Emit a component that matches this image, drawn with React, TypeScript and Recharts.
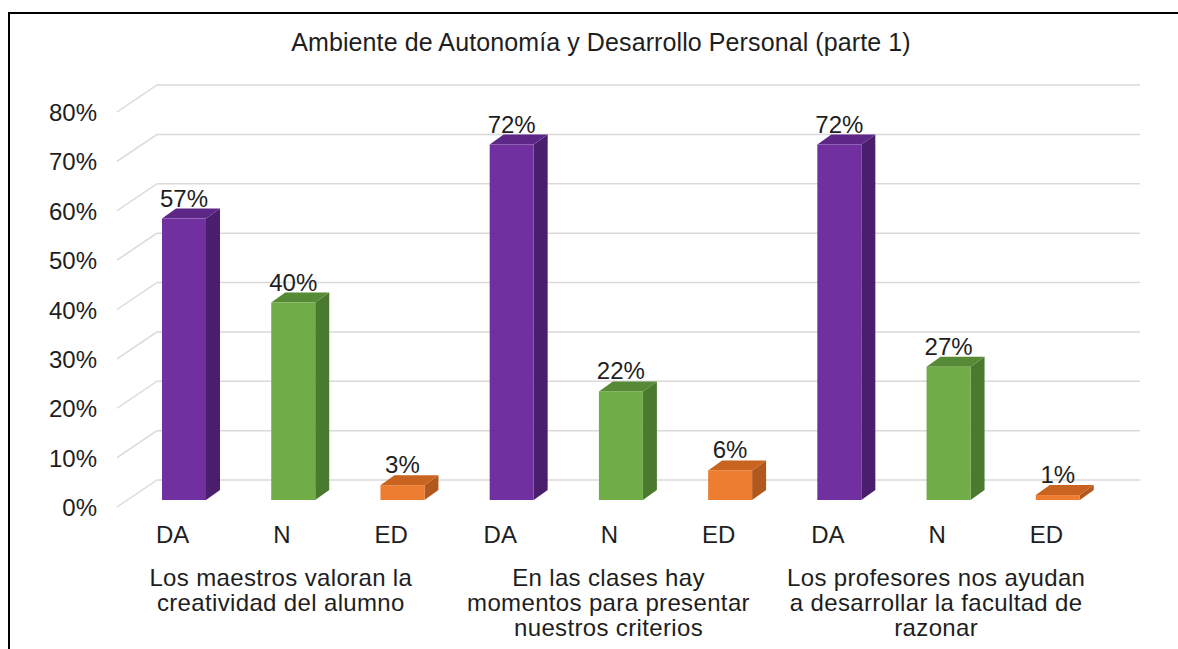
import React from "react";
import { BarChart, Bar, XAxis, YAxis, CartesianGrid, LabelList } from "recharts";

const title = "Ambiente de Autonomía y Desarrollo Personal (parte 1)";
const categories = ["DA", "N", "ED"];
const groupLabels = [
  ["Los maestros valoran la", "creatividad del alumno"],
  ["En las clases hay", "momentos para presentar", "nuestros criterios"],
  ["Los profesores nos ayudan", "a desarrollar la facultad de", "razonar"],
];
const daValues = [57, 72, 72];
const nValues = [40, 22, 27];
const edValues = [3, 6, 1];
const yTicks = [0, 10, 20, 30, 40, 50, 60, 70, 80];

const seriesValues = [daValues, nValues, edValues];
const seriesColors = [
  { front: "#7030A0", side: "#4A1E6C", top: "#5C2786" },
  { front: "#70AD47", side: "#4A7A2E", top: "#568A36" },
  { front: "#ED7D31", side: "#B3581C", top: "#C8641F" },
];

const data = groupLabels.flatMap((g, gi) =>
  categories.map((c, ci) => ({
    id: `${gi}-${ci}`,
    cat: c,
    group: gi,
    series: ci,
    value: seriesValues[ci][gi],
  }))
);

const FONT = "'Liberation Sans', Arial, sans-serif";
const TEXT = "#1e1e1e";
const GRID = "#D9D9D9";
const DX = 14;
const DY = 10;
const WALL_DX = 28;
const WALL_DY = 20;

const Bar3D = (props: any) => {
  const { x, y, width, height, payload } = props;
  const c = seriesColors[payload.series];
  const w = width;
  const h = height;
  return (
    <g>
      <polygon
        points={`${x + w},${y} ${x + w + DX},${y - DY} ${x + w + DX},${y + h - DY} ${x + w},${y + h}`}
        fill={c.side}
      />
      <polygon
        points={`${x},${y} ${x + DX},${y - DY} ${x + w + DX},${y - DY} ${x + w},${y}`}
        fill={c.top}
      />
      <rect x={x} y={y} width={w} height={h} fill={c.front} />
    </g>
  );
};

const XTick = (props: any) => {
  const { x, y, payload } = props;
  const row = data.find((d) => d.id === payload.value);
  if (!row) return null;
  const lines = groupLabels[row.group];
  return (
    <g>
      <text x={x - 11} y={y + 43} textAnchor="middle" fontSize={24} fontFamily={FONT} fill={TEXT}>
        {row.cat}
      </text>
      {row.series === 1 &&
        lines.map((l, i) => (
          <text
            key={i}
            x={x - 12}
            y={y + 86 + i * 25}
            textAnchor="middle"
            fontSize={24}
            letterSpacing={0.35}
            fontFamily={FONT}
            fill={TEXT}
          >
            {l}
          </text>
        ))}
    </g>
  );
};

const YTick = (props: any) => {
  const { x, y, payload } = props;
  return (
    <g>
      <line x1={x - 12} y1={y + 7} x2={x + WALL_DX} y2={y - WALL_DY} stroke={GRID} strokeWidth={1.5} />
      <text x={x - 32} y={y + 16} textAnchor="end" fontSize={24} fontFamily={FONT} fill={TEXT}>
        {`${payload.value}%`}
      </text>
    </g>
  );
};

const GridLine = (props: any) => {
  const { x1, y1, x2, y2 } = props;
  return (
    <line
      x1={x1 + WALL_DX}
      y1={y1 - WALL_DY}
      x2={x2 + WALL_DX}
      y2={y2 - WALL_DY}
      stroke={GRID}
      strokeWidth={1.5}
    />
  );
};

const ValueLabel = (props: any) => {
  const { x, y, width, value } = props;
  return (
    <text x={x + width / 2} y={y - 12} textAnchor="middle" fontSize={24} fontFamily={FONT} fill={TEXT}>
      {`${value}%`}
    </text>
  );
};

export default function App() {
  return (
    <div
      style={{
        position: "absolute",
        left: 0,
        top: 0,
        width: 1178,
        height: 649,
        overflow: "hidden",
        background: "#ffffff",
      }}
    >
      <div
        style={{
          position: "absolute",
          left: 8,
          top: 12,
          width: 1220,
          height: 700,
          border: "2px solid #000",
          boxSizing: "border-box",
        }}
      />
      <div style={{ position: "absolute", left: 0, top: 0 }}>
        <BarChart
          width={1178}
          height={649}
          data={data}
          margin={{ top: 105, right: 66, bottom: 0, left: 0 }}
          barSize={44}
        >
          <text
            x={601}
            y={51}
            textAnchor="middle"
            fontSize={25}
            letterSpacing={0.1}
            fontFamily={FONT}
            fill={TEXT}
          >
            {title}
          </text>
          <CartesianGrid vertical={false} horizontal={GridLine} stroke={GRID} />
          <YAxis
            type="number"
            domain={[0, 80]}
            ticks={yTicks}
            width={129}
            axisLine={false}
            tickLine={false}
            tickSize={0}
            tickMargin={0}
            tick={YTick}
            interval={0}
          />
          <XAxis
            dataKey="id"
            height={149}
            axisLine={false}
            tickLine={false}
            tickSize={0}
            tickMargin={0}
            tick={XTick}
            interval={0}
          />
          <Bar dataKey="value" shape={Bar3D} isAnimationActive={false}>
            <LabelList dataKey="value" content={ValueLabel} />
          </Bar>
        </BarChart>
      </div>
    </div>
  );
}
